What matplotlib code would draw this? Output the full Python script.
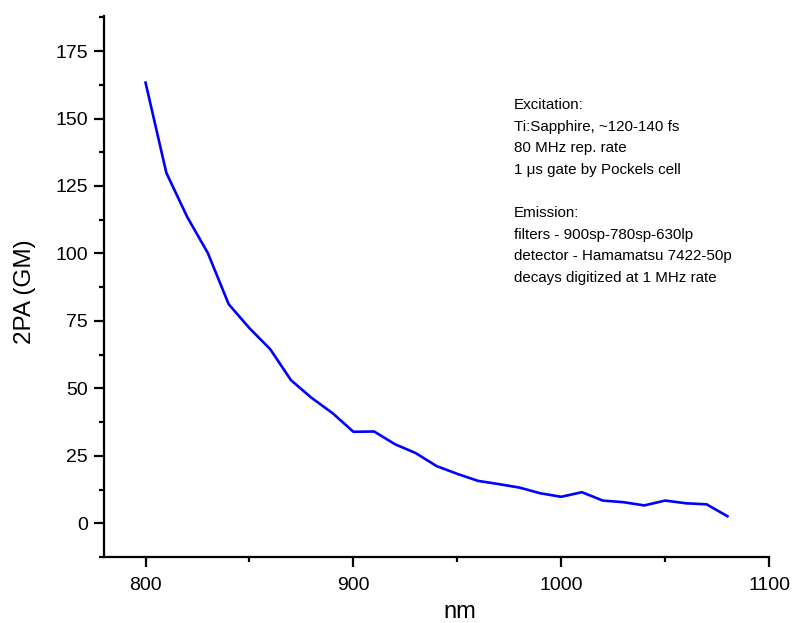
import matplotlib
matplotlib.use("Agg")
import matplotlib.pyplot as plt
from matplotlib.ticker import MultipleLocator

plt.rcParams['font.family'] = ['Liberation Sans', 'DejaVu Sans']

# 2PA cross-section vs excitation wavelength
wavelength = [800, 810, 820, 830, 840, 850, 860, 870, 880, 890,
              900, 910, 920, 930, 940, 950, 960, 970, 980, 990,
              1000, 1010, 1020, 1030, 1040, 1050, 1060, 1070, 1080]
cross_section = [163.3, 129.9, 113.6, 100.1, 81.2, 72.3, 64.5, 53.0, 46.4, 40.8,
                 33.9, 34.0, 29.3, 26.0, 21.2, 18.3, 15.7, 14.5, 13.2, 11.1,
                 9.8, 11.5, 8.4, 7.8, 6.6, 8.4, 7.4, 7.0, 2.6]

note_lines = [
    "Excitation:",
    "Ti:Sapphire, ~120-140 fs",
    "80 MHz rep. rate",
    "1 \u03bcs gate by Pockels cell",
    "",
    "Emission:",
    "filters - 900sp-780sp-630lp",
    "detector - Hamamatsu 7422-50p",
    "decays digitized at 1 MHz rate",
]

fig = plt.figure(figsize=(7.95, 6.23), dpi=100)
ax = fig.add_axes([0.1308, 0.106, 0.8365, 0.8683])

ax.plot(wavelength, cross_section, color="#0000ff", linewidth=1.9)

ax.set_xlim(780, 1100)
ax.set_ylim(-12.5, 188)

ax.spines['top'].set_visible(False)
ax.spines['right'].set_visible(False)
for s in ['left', 'bottom']:
    ax.spines[s].set_linewidth(1.6)

ax.xaxis.set_major_locator(MultipleLocator(100))
ax.xaxis.set_minor_locator(MultipleLocator(50))
ax.yaxis.set_major_locator(MultipleLocator(25))
ax.yaxis.set_minor_locator(MultipleLocator(12.5))
ax.tick_params(which='major', direction='out', length=7.2, width=1.6, labelsize=14)
ax.tick_params(which='minor', direction='out', length=3.6, width=1.6)
ax.tick_params(axis='x', which='major', pad=7)
ax.tick_params(axis='y', which='major', pad=4.3)

ax.set_xlabel("nm", fontsize=17)
ax.set_ylabel("2PA (GM)", fontsize=17.5)
ax.xaxis.set_label_coords(0.535, -0.082)
ax.yaxis.set_label_coords(-0.102, 0.49)

fig.text(514 / 795, 1 - 98 / 623, "\n".join(note_lines), fontsize=10.9,
         va='top', ha='left', linespacing=1.69)

fig.savefig("out.png", dpi=100)
